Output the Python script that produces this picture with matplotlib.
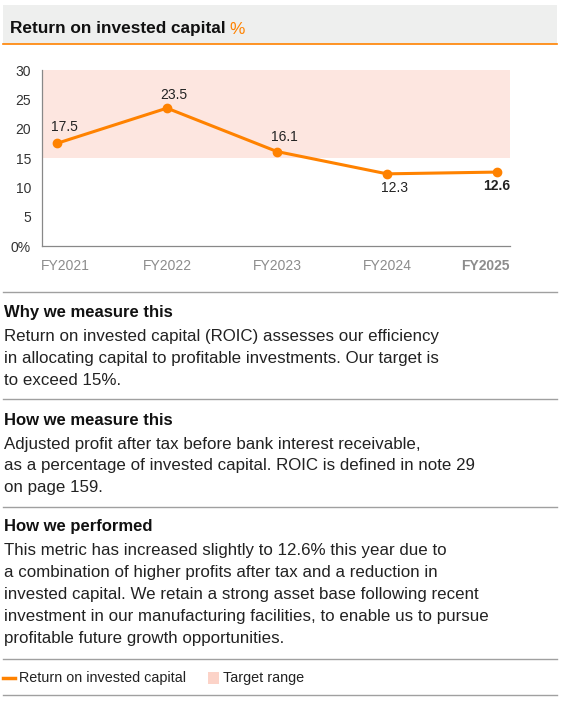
import matplotlib
matplotlib.use('Agg')
import matplotlib.pyplot as plt
from matplotlib.patches import Rectangle
from matplotlib.lines import Line2D

plt.rcParams['font.family'] = ['Liberation Sans', 'DejaVu Sans']

# data
years = ['FY2021', 'FY2022', 'FY2023', 'FY2024', 'FY2025']
roic = [17.5, 23.5, 16.1, 12.3, 12.6]
target_low = 15
target_high = 30
y_ticks = [0, 5, 10, 15, 20, 25, 30]
y_tick_labels = ['0%', '5', '10', '15', '20', '25', '30']

title = 'Return on invested capital'
sections = [
    ('Why we measure this',
     ['Return on invested capital (ROIC) assesses our efficiency',
      'in allocating capital to profitable investments. Our target is',
      'to exceed 15%.']),
    ('How we measure this',
     ['Adjusted profit after tax before bank interest receivable,',
      'as a percentage of invested capital. ROIC is defined in note 29',
      'on page 159.']),
    ('How we performed',
     ['This metric has increased slightly to 12.6% this year due to',
      'a combination of higher profits after tax and a reduction in',
      'invested capital. We retain a strong asset base following recent',
      'investment in our manufacturing facilities, to enable us to pursue',
      'profitable future growth opportunities.']),
]

ORANGE = '#FF8200'
PINK = '#FDE6E0'
GRAY_TXT = '#8C8C8C'
LINE_GRAY = '#A0A0A0'

W, H = 565, 703
fig = plt.figure(figsize=(W / 100, H / 100), dpi=100)


def fy(y):
    return 1 - y / H


def fx(x):
    return x / W


# header box
fig.patches.append(Rectangle((fx(3), fy(44)), fx(554), 39 / H, transform=fig.transFigure,
                             facecolor='#EEEFEE', edgecolor='none'))
fig.lines.append(Line2D([fx(3), fx(557)], [fy(44), fy(44)], transform=fig.transFigure,
                        color=ORANGE, lw=1.2))
t = fig.text(fx(10), fy(29), title, fontsize=12.4, fontweight='bold', va='center', color='#111111')
fig.canvas.draw()
bb = t.get_window_extent()
fig.text(bb.x1 / W + fx(4), fy(29), '%', fontsize=12.4, va='center', color=ORANGE)

# chart
ax = fig.add_axes([fx(42), fy(246), fx(468), 176 / H])
x = list(range(len(years)))
ax.axhspan(target_low, target_high, color=PINK, lw=0, zorder=0)
ax.plot(x, roic, color=ORANGE, lw=2.2, marker='o', ms=6, zorder=3)
ax.set_xlim(-0.136, 4.118)
ax.set_ylim(0, 30)
ax.set_yticks(y_ticks)
ax.set_yticklabels(y_tick_labels, fontsize=10, color='#333333')
ax.set_xticks([])
ax.tick_params(axis='y', length=0, pad=8)
for s in ['top', 'right']:
    ax.spines[s].set_visible(False)
for s in ['left', 'bottom']:
    ax.spines[s].set_color('#888888')
    ax.spines[s].set_linewidth(0.9)

# x labels
for i, lab in enumerate(years):
    ha = 'center'
    xpos = i
    if i == 0:
        ha = 'left'
        xpos = -0.145
    elif i == len(years) - 1:
        ha = 'right'
        xpos = 4.118
    ax.text(xpos, -3.4, lab, ha=ha, va='center', fontsize=10, color=GRAY_TXT,
            fontweight='bold' if i == len(years) - 1 else 'normal')

# value labels
offsets = [(0.07, 2.7, 'center'), (0.06, 2.2, 'center'), (0.07, 2.4, 'center'),
           (0.065, -2.4, 'center'), (0.118, -2.4, 'right')]
for i, v in enumerate(roic):
    dx, dy, ha = offsets[i]
    ax.text(i + dx, v + dy, f'{v:.1f}', ha=ha, va='center', fontsize=10, color='#222222',
            fontweight='bold' if i == len(roic) - 1 else 'normal')

# separators
for y in [292, 399, 507, 659, 695]:
    fig.lines.append(Line2D([fx(3), fx(557)], [fy(y), fy(y)], transform=fig.transFigure,
                            color=LINE_GRAY, lw=1))

heading_y = [313, 420, 527]
for (head, lines), hy in zip(sections, heading_y):
    fig.text(fx(4), fy(hy), head, fontsize=12, fontweight='bold', va='center', color='#111111')
    for j, ln in enumerate(lines):
        fig.text(fx(4), fy(hy + 24 + 21.8 * j), ln, fontsize=12.2, va='center', color='#222222')

# legend
fig.lines.append(Line2D([fx(3), fx(15)], [fy(678), fy(678)], transform=fig.transFigure,
                        color=ORANGE, lw=2.5))
fig.text(fx(19), fy(678), 'Return on invested capital', fontsize=10.4, va='center', color='#222222')
fig.patches.append(Rectangle((fx(208), fy(684)), fx(11), 12 / H, transform=fig.transFigure,
                             facecolor='#FCD3C8', edgecolor='none'))
fig.text(fx(223), fy(678), 'Target range', fontsize=10.4, va='center', color='#222222')

fig.savefig('out.png', dpi=100)
